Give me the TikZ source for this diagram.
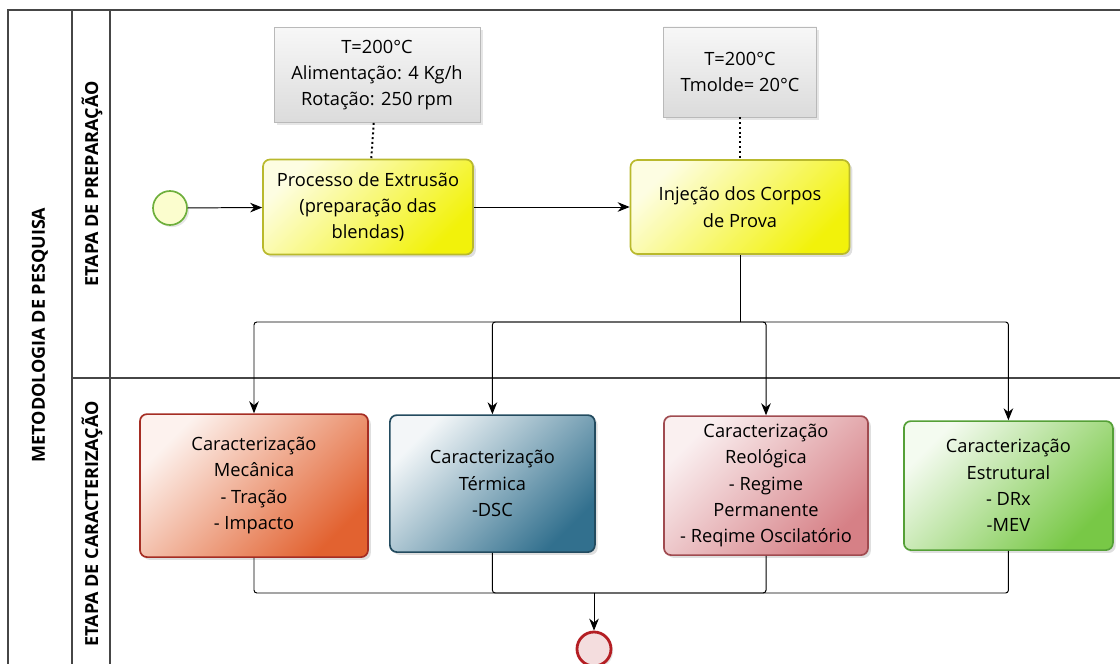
\documentclass[tikz,border=0pt]{standalone}
\usepackage{fontspec}
\setmainfont{Open Sans}
\usetikzlibrary{arrows.meta,shadows}
\definecolor{procyellow}{RGB}{242,242,10}
\definecolor{procedge}{RGB}{185,185,45}
\definecolor{mecorange}{RGB}{226,98,48}
\definecolor{mecedge}{RGB}{165,45,35}
\definecolor{termteal}{RGB}{50,112,142}
\definecolor{termedge}{RGB}{35,75,95}
\definecolor{reolpink}{RGB}{214,128,134}
\definecolor{reoledge}{RGB}{160,75,80}
\definecolor{estrgreen}{RGB}{120,200,70}
\definecolor{estredge}{RGB}{85,160,55}
\definecolor{startgreen}{RGB}{110,175,60}
\definecolor{endred}{RGB}{180,30,35}
\definecolor{poolline}{RGB}{70,70,70}

\begin{document}
\begin{tikzpicture}[
  lane/.style={draw=poolline, line width=0.8pt},
  lanelabel/.style={rotate=90, font=\fontsize{12.8}{15}\selectfont\bfseries},
  task/.style={rounded corners=5pt, line width=1.2pt, align=center, inner sep=2pt, font=\fontsize{13}{18.7}\selectfont, drop shadow={shadow xshift=2pt, shadow yshift=-2pt, opacity=0.25}},
  note/.style={draw=gray!55, line width=0.5pt, top color=gray!6, bottom color=gray!28, align=center, font=\fontsize{13}{18.7}\selectfont, drop shadow={shadow xshift=2pt, shadow yshift=-2pt, opacity=0.2}},
  event/.style={circle, minimum size=0.85cm, line width=1.2pt, drop shadow={shadow xshift=1.5pt, shadow yshift=-1.5pt, opacity=0.2}},
  flow/.style={-{Stealth[length=3mm, width=2.4mm]}, line width=0.7pt, rounded corners=2pt},
  line/.style={line width=0.7pt, rounded corners=2pt},
  assoc/.style={dotted, line width=1.4pt},
]
\useasboundingbox (0,0) rectangle (28,-16.6);

% Pool and lanes
\draw[lane] (28,-0.25) -- (0.2,-0.25) -- (0.2,-16.8);
\draw[lane] (1.8,-0.25) -- (1.8,-16.8);
\draw[lane] (2.75,-0.25) -- (2.75,-16.8);
\draw[lane] (1.8,-9.45) -- (28,-9.45);
\node[lanelabel] (pool) at (1.0,-8.375) {METODOLOGIA DE PESQUISA};
\node[lanelabel] (prep) at (2.3,-4.6) {ETAPA DE PREPARAÇÃO};
\node[lanelabel] (carac) at (2.3,-13.1) {ETAPA DE CARACTERIZAÇÃO};

% Preparation lane
\node[event, draw=startgreen, fill=startgreen!15!yellow!20] (start) at (4.25,-5.2) {};
\node[task, draw=procedge, left color=procyellow!12, right color=procyellow, shading angle=45, minimum width=5.25cm, minimum height=2.375cm] (extr) at (9.2,-5.175) {Processo de Extrusão\\(preparação das\\blendas)};
\node[task, draw=procedge, left color=procyellow!12, right color=procyellow, shading angle=45, minimum width=5.475cm, minimum height=2.35cm] (inje) at (18.5,-5.175) {Injeção dos Corpos\\de Prova};
\node[note, minimum width=5.15cm, minimum height=2.375cm] (ann1) at (9.425,-1.875) {T=200°C\\Alimentação: 4 Kg/h\\Rotação: 250 rpm};
\node[note, minimum width=3.825cm, minimum height=2.25cm] (ann2) at (18.5,-1.8) {T=200°C\\Tmolde= 20°C};

\draw[assoc] (ann1) -- (extr);
\draw[assoc] (ann2) -- (inje);
\draw[flow] (start) -- (extr);
\draw[flow] (extr) -- (inje);

% Characterization lane
\node[task, draw=mecedge, left color=mecorange!8, right color=mecorange, shading angle=45, minimum width=5.7cm, minimum height=3.575cm] (mec) at (6.35,-12.14) {Caracterização\\Mecânica\\- Tração\\- Impacto};
\node[task, draw=termedge, left color=termteal!6, right color=termteal, shading angle=45, minimum width=5.125cm, minimum height=3.425cm] (term) at (12.31,-12.09) {Caracterização\\Térmica\\-DSC};
\node[task, draw=reoledge, left color=reolpink!12, right color=reolpink, shading angle=45, minimum width=5.1cm, minimum height=3.475cm] (reol) at (19.15,-12.14) {Caracterização\\Reológica\\- Regime\\Permanente\\- Reqime Oscilatório};
\node[task, draw=estredge, left color=estrgreen!8, right color=estrgreen, shading angle=45, minimum width=5.225cm, minimum height=3.225cm] (estr) at (25.21,-12.14) {Caracterização\\Estrutural\\- DRx\\-MEV};
\node[event, draw=endred, fill=endred!15, line width=2pt] (fim) at (14.85,-16.225) {};

\coordinate (split) at (18.5,-8.05);
\coordinate (join) at (14.85,-14.825);

\draw[line] (inje) -- (split);
\foreach \b in {mec,term,reol,estr}
  \draw[flow] (split) -| (\b);
\foreach \b in {mec,term,reol,estr}
  \draw[line] (\b) |- (join);
\draw[flow] (join) -- (fim);
\end{tikzpicture}
\end{document}
